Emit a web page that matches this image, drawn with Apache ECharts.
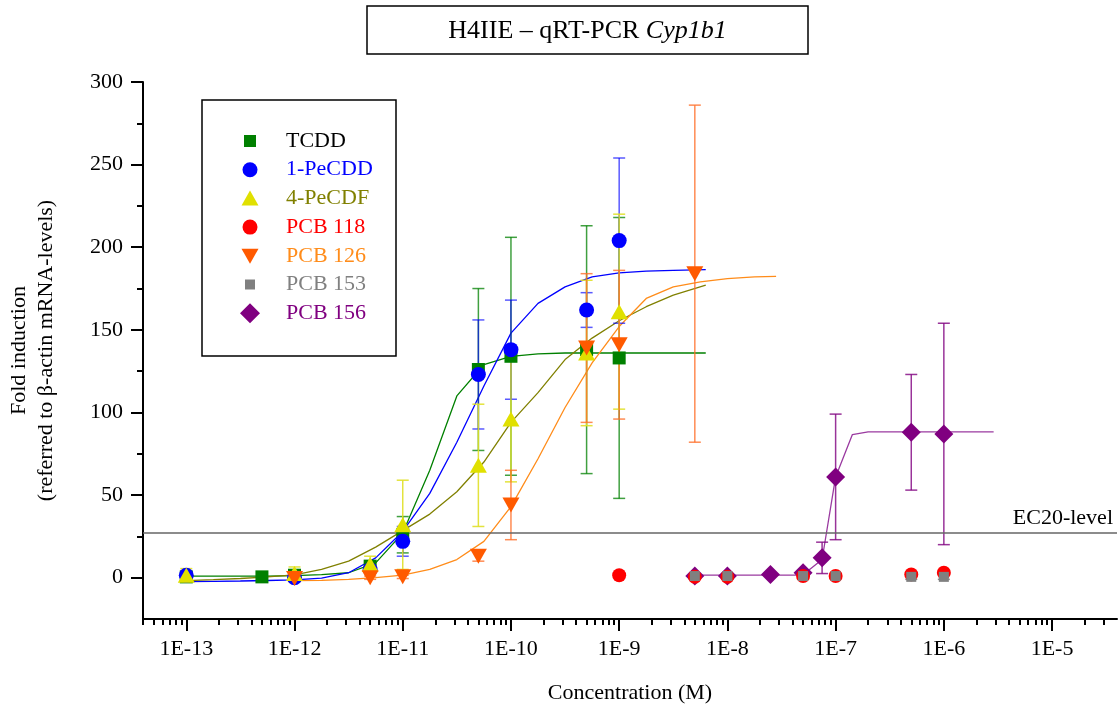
<!DOCTYPE html>
<html>
<head>
<meta charset="utf-8">
<title>H4IIE – qRT-PCR Cyp1b1</title>
<script src="https://cdn.jsdelivr.net/npm/echarts@6/dist/echarts.min.js"></script>
<style>
  html, body { margin: 0; padding: 0; background: #fff; }
  #chart { width: 1120px; height: 706px; }
</style>
</head>
<body>
<div id="chart"></div>
<script>
// ---- measured data: concentration (M), mean fold induction, error ----
const tcddConc = [1e-13, 5e-13, 1e-12, 5e-12, 1e-11, 5e-11, 1e-10, 5e-10, 1e-9];
const tcddMean = [0.5, 0.5, 1.5, 7, 26, 126, 134, 138, 133];
const tcddErr  = [1, 0, 1.5, 3, 11, 49, 72, 75, 85];

const pecddConc = [1e-13, 1e-12, 5e-12, 1e-11, 5e-11, 1e-10, 5e-10, 1e-9];
const pecddMean = [1.5, 0, 5, 22, 123, 138, 162, 204];
const pecddErr  = [1, 1, 2, 9, 33, 30, 10.5, 50];

const pecdfConc = [1e-13, 1e-12, 5e-12, 1e-11, 5e-11, 1e-10, 5e-10, 1e-9];
const pecdfMean = [1.5, 2.5, 8, 32, 68, 96, 136, 161];
const pecdfErr  = [4, 4, 5, 27, 37, 38, 44, 59];

const pcb118Conc = [1e-9, 5e-9, 1e-8, 5e-8, 1e-7, 5e-7, 1e-6];
const pcb118Mean = [1.5, 0.5, 0.5, 1, 1, 2, 3];

const pcb126Conc = [1e-12, 5e-12, 1e-11, 5e-11, 1e-10, 5e-10, 1e-9, 5e-9];
const pcb126Mean = [-0.5, 0, 0.5, 13, 44, 139, 141, 184];
const pcb126Err  = [2, 1, 1, 3, 21, 45, 45, 102];

const pcb153Conc = [5e-9, 1e-8, 5e-8, 1e-7, 5e-7, 1e-6];
const pcb153Mean = [1, 1, 1, 1, 0.5, 0.5];
const pcb153Err  = [1.5, 1.5, 1.5, 1.5, 1.5, 1.5];

const pcb156Conc = [5e-9, 1e-8, 2.5e-8, 5e-8, 7.5e-8, 1e-7, 5e-7, 1e-6];
const pcb156Mean = [1, 1, 2, 3, 12, 61, 88, 87];
const pcb156Err  = [0.5, 0.5, 0.5, 0.5, 9.5, 38, 35, 67];

// ---- fitted dose-response curves (log10 concentration, fold induction) ----
const fitExp = [-13, -12.75, -12.5, -12.25, -12, -11.75, -11.5, -11.25, -11, -10.75,
                -10.5, -10.25, -10, -9.75, -9.5, -9.25, -9, -8.75, -8.5, -8.2];
const tcddFit  = [1, 1, 1, 1, 1.2, 1.8, 3, 9, 27, 65, 110, 129, 134, 135.5, 136, 136, 136, 136, 136, 136];
const pecddFit = [-2.3, -2.2, -2, -1.7, -1.3, -0.3, 3, 12, 28, 51, 82, 116, 148, 166, 176, 182, 184.5, 185.5, 186, 186.5];
const pecdfFit = [-1.8, -1.2, -0.5, 0.5, 1.7, 5, 10, 18.5, 28.5, 38.5, 52, 70, 94, 112, 132, 145, 155.5, 164, 171, 177];

const pcb126FitExp = [-12, -11.75, -11.5, -11.25, -11, -10.75, -10.5, -10.25, -10, -9.75,
                      -9.5, -9.25, -9, -8.75, -8.5, -8.25, -8, -7.75, -7.55];
const pcb126Fit    = [-1.8, -1.6, -1, 0, 1.6, 5, 11, 22, 43, 72, 103, 130, 152, 169, 176, 179, 181, 182, 182.4];

const pcb156FitExp = [-8.35, -8, -7.75, -7.5, -7.37, -7.24, -7.125, -7, -6.845, -6.7, -6.5, -6, -5.54];
const pcb156Fit    = [1.5, 1.5, 1.5, 1.5, 1.6, 5, 11, 61, 86.6, 88.3, 88.3, 88.3, 88.3];

const ec20Level = 27;

// ---- axis ticks ----
const xTickExps = [-13, -12, -11, -10, -9, -8, -7, -6, -5];
const yTickValues = [0, 50, 100, 150, 200, 250, 300];
const yMinorValues = [25, 75, 125, 175, 225, 275];

const FONT = 'Liberation Serif';

const xMinorValues = [];
for (let e = -14; e <= -5; e++) {
  for (let k = 2; k <= 9; k++) {
    const v = e + Math.log10(k);
    if (v > -13.4 && v < -4.4) xMinorValues.push(v);
  }
}

function points(conc, vals) {
  return conc.map((c, i) => [Math.log10(c), vals[i]]);
}
function curve(exps, vals) {
  return exps.map((e, i) => [e, vals[i]]);
}
function bars(conc, mean, err) {
  return conc.map((c, i) => [Math.log10(c), mean[i] - err[i], mean[i] + err[i]]);
}

function errorBarSeries(name, data, color) {
  return {
    name: name,
    type: 'custom',
    xAxisIndex: 0, yAxisIndex: 0,
    z: 3,
    silent: true,
    data: data,
    renderItem: function (params, api) {
      const x = api.value(0);
      const top = api.coord([x, api.value(2)]);
      const bot = api.coord([x, api.value(1)]);
      const cap = 6;
      const style = { stroke: color, lineWidth: 1.5 };
      return {
        type: 'group',
        children: [
          { type: 'line', shape: { x1: top[0], y1: top[1], x2: bot[0], y2: bot[1] }, style: style },
          { type: 'line', shape: { x1: top[0] - cap, y1: top[1], x2: top[0] + cap, y2: top[1] }, style: style },
          { type: 'line', shape: { x1: bot[0] - cap, y1: bot[1], x2: bot[0] + cap, y2: bot[1] }, style: style }
        ]
      };
    }
  };
}

function fitSeries(name, data, color) {
  return {
    name: name,
    type: 'line',
    xAxisIndex: 0, yAxisIndex: 0,
    z: 2,
    silent: true,
    showSymbol: false,
    symbol: 'none',
    smooth: false,
    data: data,
    lineStyle: { color: color, width: 1.3 }
  };
}

function markerSeries(name, data, symbol, size, color, z) {
  return {
    name: name,
    type: 'scatter',
    xAxisIndex: 0, yAxisIndex: 0,
    z: z,
    symbol: symbol,
    symbolSize: size,
    data: data,
    itemStyle: { color: color, opacity: 1 }
  };
}

const downTriangle = 'path://M0,0L20,0L10,17Z';

// legend icons: a 20x20 frame (the two leading moves) keeps each symbol at its own size
const iconSquare   = 'path://M0,0M20,20M4,4L16,4L16,16L4,16Z';
const iconSmallSq  = 'path://M0,0M20,20M5,5L15,5L15,15L5,15Z';
const iconCircle   = 'path://M0,0M20,20M2.5,10A7.5,7.5,0,1,1,17.5,10A7.5,7.5,0,1,1,2.5,10Z';
const iconUp       = 'path://M0,0M20,20M1.5,17L10,2L18.5,17Z';
const iconDown     = 'path://M0,0M20,20M1.5,3L18.5,3L10,18Z';

const chart = echarts.init(document.getElementById('chart'), null, { renderer: 'canvas' });

const option = {
  backgroundColor: '#ffffff',
  animation: false,
  grid: { left: 143, right: 3, top: 82, bottom: 87, containLabel: false, outerBoundsMode: 'none' },
  xAxis: [
    {
      type: 'value',
      min: -13.4, max: -4.4,
      position: 'bottom',
      name: 'Concentration (M)',
      nameLocation: 'middle',
      nameGap: 63,
      nameTextStyle: { fontFamily: FONT, fontSize: 22, color: '#000' },
      axisLine: { show: true, onZero: false, lineStyle: { color: '#000', width: 2 } },
      axisTick: { show: true, customValues: xTickExps, length: 12, lineStyle: { color: '#000', width: 2 } },
      axisLabel: {
        show: true, customValues: xTickExps, margin: 19,
        fontFamily: FONT, fontSize: 22, color: '#000',
        formatter: function (v) { return '1E' + Math.round(v); }
      },
      splitLine: { show: false }
    },
    {
      type: 'value',
      min: -13.4, max: -4.4,
      position: 'bottom',
      axisLine: { show: false, onZero: false },
      axisTick: { show: true, customValues: xMinorValues, length: 6, lineStyle: { color: '#000', width: 2 } },
      axisLabel: { show: false },
      splitLine: { show: false }
    }
  ],
  yAxis: [
    {
      type: 'value',
      min: -25, max: 300,
      position: 'left',
      name: 'Fold induction\n(referred to β-actin mRNA-levels)',
      nameLocation: 'middle',
      nameGap: 83,
      nameTextStyle: { fontFamily: FONT, fontSize: 22, color: '#000', lineHeight: 27 },
      axisLine: { show: true, onZero: false, lineStyle: { color: '#000', width: 2 } },
      axisTick: { show: true, customValues: yTickValues, length: 12, lineStyle: { color: '#000', width: 2 } },
      axisLabel: { show: true, customValues: yTickValues, margin: 20, fontFamily: FONT, fontSize: 22, color: '#000' },
      splitLine: { show: false }
    },
    {
      type: 'value',
      min: -25, max: 300,
      position: 'left',
      axisLine: { show: false, onZero: false },
      axisTick: { show: true, customValues: yMinorValues, length: 6, lineStyle: { color: '#000', width: 2 } },
      axisLabel: { show: false },
      splitLine: { show: false }
    }
  ],
  legend: {
    orient: 'vertical',
    left: 235,
    top: 125,
    itemWidth: 20,
    itemHeight: 20,
    itemGap: 6.7,
    selectedMode: false,
    textStyle: { fontFamily: FONT, fontSize: 22, lineHeight: 20, padding: [0, 0, 0, 21] },
    data: [
      { name: 'TCDD', icon: iconSquare, textStyle: { color: '#000000' } },
      { name: '1-PeCDD', icon: iconCircle, textStyle: { color: '#0000ff' } },
      { name: '4-PeCDF', icon: iconUp, textStyle: { color: '#808000' } },
      { name: 'PCB 118', icon: iconCircle, textStyle: { color: '#ff0000' } },
      { name: 'PCB 126', icon: iconDown, textStyle: { color: '#ff8c1a' } },
      { name: 'PCB 153', icon: iconSmallSq, textStyle: { color: '#808080' } },
      { name: 'PCB 156', icon: 'diamond', textStyle: { color: '#800080' } }
    ]
  },
  graphic: [
    {
      type: 'rect', z: 10,
      shape: { x: 367, y: 6, width: 441, height: 48 },
      style: { fill: '#fff', stroke: '#000', lineWidth: 1.5 }
    },
    {
      type: 'text', z: 11,
      x: 587.5, y: 31,
      style: {
        text: '{n|H4IIE – qRT-PCR }{i|Cyp1b1}',
        align: 'center', verticalAlign: 'middle',
        rich: {
          n: { fontFamily: FONT, fontSize: 26, fill: '#000' },
          i: { fontFamily: FONT, fontSize: 26, fontStyle: 'italic', fill: '#000' }
        }
      }
    },
    {
      type: 'rect', z: 1,
      shape: { x: 202, y: 100, width: 194, height: 256 },
      style: { fill: '#fff', stroke: '#000', lineWidth: 1.5 }
    }
  ],
  series: [
    // fitted curves
    Object.assign(fitSeries('TCDD fit', curve(fitExp, tcddFit), '#008000'), {
      markLine: {
        silent: true,
        symbol: 'none',
        data: [{ yAxis: ec20Level }],
        lineStyle: { color: '#666666', width: 1.5, type: 'solid' },
        label: {
          show: true, position: 'insideEndTop', formatter: 'EC20-level',
          fontFamily: FONT, fontSize: 22, color: '#000', distance: [4, 4]
        }
      }
    }),
    fitSeries('1-PeCDD fit', curve(fitExp, pecddFit), '#0000ff'),
    fitSeries('4-PeCDF fit', curve(fitExp, pecdfFit), '#808000'),
    fitSeries('PCB 126 fit', curve(pcb126FitExp, pcb126Fit), '#ff8c1a'),
    fitSeries('PCB 156 fit', curve(pcb156FitExp, pcb156Fit), '#9a3aa0'),

    // error bars
    errorBarSeries('TCDD sd', bars(tcddConc, tcddMean, tcddErr), 'rgba(0,128,0,0.75)'),
    errorBarSeries('1-PeCDD sd', bars(pecddConc, pecddMean, pecddErr), 'rgba(0,0,255,0.65)'),
    errorBarSeries('4-PeCDF sd', bars(pecdfConc, pecdfMean, pecdfErr), 'rgba(224,224,40,0.9)'),
    errorBarSeries('PCB 126 sd', bars(pcb126Conc, pcb126Mean, pcb126Err), 'rgba(255,110,40,0.8)'),
    errorBarSeries('PCB 153 sd', bars(pcb153Conc, pcb153Mean, pcb153Err), 'rgba(128,128,128,0.9)'),
    errorBarSeries('PCB 156 sd', bars(pcb156Conc, pcb156Mean, pcb156Err), 'rgba(128,0,128,0.8)'),

    // mean values
    markerSeries('PCB 156', points(pcb156Conc, pcb156Mean), 'diamond', 19, '#800080', 4),
    markerSeries('TCDD', points(tcddConc, tcddMean), 'rect', 13, '#008000', 5),
    markerSeries('1-PeCDD', points(pecddConc, pecddMean), 'circle', 15, '#0000ff', 6),
    markerSeries('4-PeCDF', points(pecdfConc, pecdfMean), 'triangle', [17, 15], '#e0e000', 7),
    markerSeries('PCB 118', points(pcb118Conc, pcb118Mean), 'circle', 14, '#ff0000', 8),
    markerSeries('PCB 126', points(pcb126Conc, pcb126Mean), downTriangle, [17, 15], '#ff5a00', 9),
    markerSeries('PCB 153', points(pcb153Conc, pcb153Mean), 'rect', 10, '#808080', 10)
  ]
};

chart.setOption(option);
</script>
</body>
</html>
